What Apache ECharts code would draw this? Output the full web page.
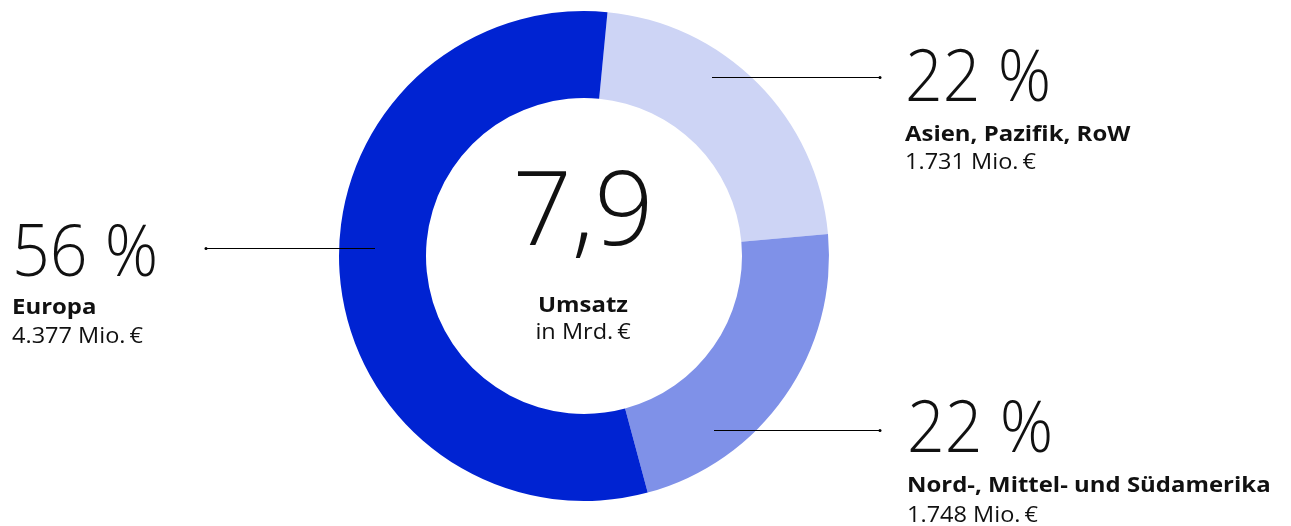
<!DOCTYPE html>
<html>
<head>
<meta charset="utf-8">
<script src="https://cdn.jsdelivr.net/npm/echarts@6/dist/echarts.min.js"></script>
<style>
  html, body { margin: 0; padding: 0; background: #fff; }
  #main { width: 1291px; height: 526px; }
</style>
</head>
<body>
<div id="main"></div>
<script>
// data
const regions = ["Asien, Pazifik, RoW", "Nord-, Mittel- und Südamerika", "Europa"];
const umsatzMio = [1731, 1748, 4377];
const sliceColors = ["#cdd4f5", "#7f91e8", "#0023d2"];

// label layout: left x, baselines of percent / name / value, leader line
const labelPos = [
  { x: 905, base: [101, 141, 169], line: [712, 77.5, 880, 77.5], dot: 880 },
  { x: 907, base: [452, 492, 522], line: [714, 430.5, 880, 430.5], dot: 880 },
  { x: 12, base: [276, 314, 343], line: [375, 248.5, 206, 248.5], dot: 206 }
];

const FONT = '"Open Sans", "Noto Sans", sans-serif';
const total = umsatzMio.reduce((a, b) => a + b, 0);

const fmtMio = (v) => v.toLocaleString("de-DE") + " Mio.\u2009€";
const pct = (v) => Math.round((v / total) * 100) + " %";

// baseline -> middle (canvas em box middle)
const mid = (baseline, size) => baseline - 0.285 * size;

const txt = (x, baseline, text, size, weight, sx, align) => ({
  type: "text",
  x: x, y: mid(baseline, size),
  scaleX: sx,
  style: {
    text: text,
    font: weight + " " + size + "px " + FONT,
    fill: "#111",
    align: align || "left",
    verticalAlign: "middle"
  }
});

const graphics = [];
regions.forEach((name, i) => {
  const p = labelPos[i];
  graphics.push({
    type: "line",
    shape: { x1: p.line[0], y1: p.line[1], x2: p.line[2], y2: p.line[3] },
    style: { stroke: "#000", lineWidth: 1 },
    z: 10
  });
  graphics.push({
    type: "circle",
    shape: { cx: p.dot, cy: p.line[3], r: 1.5 },
    style: { fill: "#000" },
    z: 10
  });
  graphics.push(txt(p.x, p.base[0], pct(umsatzMio[i]), 72, 300, 0.92));
  graphics.push(txt(p.x, p.base[1], name, 21, "bold", 1.14));
  graphics.push(txt(p.x, p.base[2], fmtMio(umsatzMio[i]), 21, "normal", 1.12));
});

// center
graphics.push(txt(583, 245, (total / 1000).toFixed(1).replace(".", ","), 104, 300, 1, "center"));
graphics.push(txt(583, 312, "Umsatz", 21, "bold", 1.14, "center"));
graphics.push(txt(583, 339, "in Mrd.\u2009€", 21, "normal", 1.12, "center"));

const chart = echarts.init(document.getElementById("main"));
chart.setOption({
  animation: false,
  backgroundColor: "#fff",
  series: [
    {
      type: "pie",
      center: [584, 256],
      radius: [158, 245],
      startAngle: 84.5,
      clockwise: true,
      label: { show: false },
      labelLine: { show: false },
      itemStyle: { borderWidth: 0 },
      emphasis: { disabled: true },
      data: regions.map((name, i) => ({
        name: name,
        value: umsatzMio[i],
        itemStyle: { color: sliceColors[i] }
      }))
    }
  ],
  graphic: graphics
});
</script>
</body>
</html>
